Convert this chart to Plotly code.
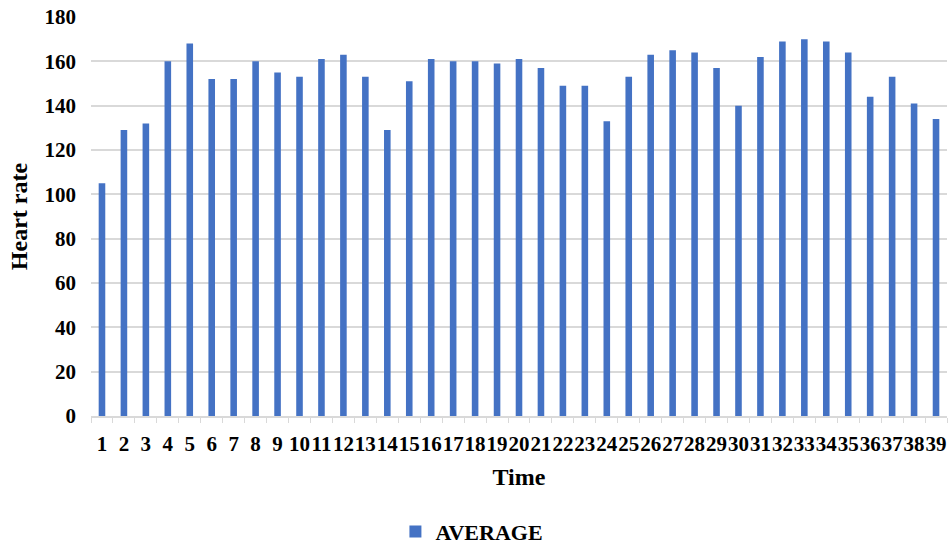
import plotly.graph_objects as go

times = [str(i) for i in range(1, 40)]
average = [105, 129, 132, 160, 168, 152, 152, 160, 155, 153,
           161, 163, 153, 129, 151, 161, 160, 160, 159, 161,
           157, 149, 149, 133, 153, 163, 165, 164, 157, 140,
           162, 169, 170, 169, 164, 144, 153, 141, 134]
y_ticks = [0, 20, 40, 60, 80, 100, 120, 140, 160, 180]

FONT = "Liberation Serif"

fig = go.Figure()
fig.add_trace(go.Bar(x=times, y=average, name="AVERAGE",
                     marker=dict(color="#4472C4", line=dict(width=0))))

fig.update_layout(
    width=952, height=548,
    margin=dict(l=91, r=5, t=17, b=132, autoexpand=False),
    paper_bgcolor="white", plot_bgcolor="white",
    bargap=0.7,
    font=dict(family=FONT, size=20, color="black"),
    showlegend=True,
    legend=dict(orientation="h", x=0.445, xanchor="center", y=-0.29, yanchor="middle",
                font=dict(family=FONT, size=22, color="black", weight="bold"),
                itemwidth=30, tracegroupgap=0),
    xaxis=dict(
        type="category",
        tickmode="array", tickvals=times, ticktext=times, tickangle=0,
        tickfont=dict(family=FONT, size=21, color="black", weight="bold"),
        showgrid=False,
        showline=True, linecolor="#d9d9d9", linewidth=1.5,
        ticks="outside", tickson="boundaries", ticklen=5, tickcolor="#d9d9d9",
        ticklabelstandoff=8,
        title=dict(text="Time", font=dict(family=FONT, size=24, color="black", weight="bold"),
                   standoff=13),
    ),
    yaxis=dict(
        range=[0, 180], tickvals=y_ticks,
        tickfont=dict(family=FONT, size=21, color="black", weight="bold"),
        showgrid=True, gridcolor="#d9d9d9", gridwidth=1.5,
        zeroline=False, showline=False,
        ticklabelstandoff=14,
        title=dict(text="Heart rate", font=dict(family=FONT, size=24, color="black", weight="bold"),
                   standoff=10),
    ),
)

fig.write_html("out.html")
